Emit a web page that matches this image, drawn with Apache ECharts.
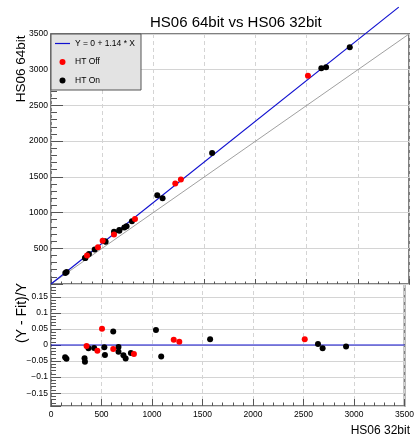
<!DOCTYPE html>
<html>
<head>
<meta charset="utf-8">
<script src="https://cdn.jsdelivr.net/npm/echarts@6/dist/echarts.min.js"></script>
<style>
  html, body { margin: 0; padding: 0; background: #fff; }
  #chart { width: 417px; height: 439px; }
</style>
</head>
<body>
<div id="chart"></div>
<script>
// HT Off (red) : HS06 32bit, HS06 64bit, residual (Y - Fit)/Y
const offX = [352, 459, 505, 616, 821, 1215, 1270, 2512]
const offY = [400, 514, 607, 694, 910, 1408, 1462, 2915]
const offRes = [-0.003, -0.018, 0.051, -0.0125, -0.028, 0.016, 0.010, 0.0177]

// HT On (black)
const onX = [140, 153, 332, 336, 371, 427, 528, 534, 616, 668, 668, 717, 739, 791, 1039, 1091, 1575, 2643, 2689, 2921]
const onY = [154, 167, 364, 364, 419, 482, 598, 590, 733, 757, 746, 792, 808, 880, 1243, 1200, 1835, 3022, 3035, 3313]
const onRes = [-0.0385, -0.043, -0.041, -0.052, -0.010, -0.009, -0.007, -0.031, 0.042, -0.006, -0.021, -0.032, -0.042, -0.025, 0.047, -0.036, 0.0177, 0.003, -0.010, -0.005]

// fit line Y = 0 + 1.14 * X (drawn past the frame, as in the original) and the Y = X diagonal
const fitX = [0, 3400]
const fitY = [0, 3876]
const diagX = [0, 3500]
const diagY = [0, 3500]
const zeroX = [0, 3500]
const zeroY = [0, 0]

const font = 'Liberation Sans, Arial, sans-serif'
const frame = '#808080'
const gridGray = '#d4d4d4'
const tickColor = '#555'
const fitBlue = '#1010d0'

const pairs = (xs, ys) => xs.map((x, i) => [x, ys[i]])
const plain = v => String(v)

const chart = echarts.init(document.getElementById('chart'))

chart.setOption({
  animation: false,
  title: {
    text: 'HS06 64bit vs HS06 32bit',
    left: 145,
    top: 10,
    textStyle: { fontFamily: font, fontSize: 15, fontWeight: 'normal', color: '#000' }
  },
  legend: {
    left: 51,
    top: 34,
    orient: 'vertical',
    selectedMode: false,
    backgroundColor: '#e3e3e3',
    borderColor: '#555',
    borderWidth: 1,
    borderRadius: 0,
    padding: [5, 6, 5, 4],
    itemGap: 9.5,
    itemWidth: 15,
    itemHeight: 6,
    symbolKeepAspect: true,
    textStyle: { fontFamily: font, fontSize: 8.5, color: '#000' },
    data: [
      { name: 'Y = 0 + 1.14 * X', icon: 'path://M0,0 L15,0 L15,1.2 L0,1.2 Z', itemStyle: { color: fitBlue } },
      'HT Off',
      'HT On'
    ]
  },
  grid: [
    { left: 51, right: 8, top: 34, height: 250, show: true, borderColor: frame, borderWidth: 2, backgroundColor: '#fff' },
    { left: 51, right: 8, top: 284, height: 122, show: true, borderColor: frame, borderWidth: 2, backgroundColor: 'transparent' }
  ],
  xAxis: [
    {
      gridIndex: 0,
      type: 'value',
      min: 0,
      max: 3500,
      interval: 500,
      axisLine: { show: false, onZero: false },
      axisTick: { inside: true, length: 5, lineStyle: { color: tickColor } },
      minorTick: { show: true, splitNumber: 5, length: 2.5, lineStyle: { color: tickColor } },
      axisLabel: { show: false },
      splitLine: { show: true, lineStyle: { color: gridGray, type: [4, 3] } }
    },
    {
      gridIndex: 1,
      type: 'value',
      min: 0,
      max: 3500,
      interval: 500,
      axisLine: { show: false, onZero: false },
      axisTick: { inside: true, length: 7, lineStyle: { color: tickColor } },
      minorTick: { show: true, splitNumber: 5, length: 3.5, lineStyle: { color: tickColor } },
      axisLabel: { margin: 4, fontFamily: font, fontSize: 8.5, color: '#000', formatter: plain },
      splitLine: { show: true, lineStyle: { color: gridGray, type: [4, 3] } }
    }
  ],
  yAxis: [
    {
      gridIndex: 0,
      type: 'value',
      min: 0,
      max: 3500,
      interval: 500,
      axisLine: { show: false, onZero: false },
      axisTick: { inside: true, length: 12, lineStyle: { color: tickColor } },
      minorTick: { show: true, splitNumber: 5, length: 6, lineStyle: { color: tickColor } },
      axisLabel: { margin: 3, showMinLabel: false, fontFamily: font, fontSize: 8.5, color: '#000', formatter: plain },
      splitLine: { show: true, lineStyle: { color: gridGray } }
    },
    {
      gridIndex: 1,
      type: 'value',
      min: -0.19,
      max: 0.19,
      splitNumber: 8,
      axisLine: { show: false, onZero: false },
      axisTick: { inside: true, length: 10, lineStyle: { color: tickColor } },
      minorTick: { show: true, splitNumber: 5, length: 5, lineStyle: { color: tickColor } },
      axisLabel: {
        margin: 3,
        showMinLabel: false,
        showMaxLabel: false,
        fontFamily: font,
        fontSize: 8.5,
        color: '#000',
        formatter: v => {
          const s = String(Math.round(v * 100) / 100)
          return s.replace('-', '\u2212')
        }
      },
      splitLine: { show: true, lineStyle: { color: gridGray } }
    }
  ],
  graphic: [
    {
      type: 'text', x: 21, y: 35.5, rotation: Math.PI / 2,
      style: { text: 'HS06 64bit', fontFamily: font, fontSize: 13.5, fill: '#000', align: 'right', verticalAlign: 'middle' }
    },
    {
      type: 'text', x: 22, y: 283, rotation: Math.PI / 2,
      style: { text: '(Y - Fit)/Y', fontFamily: font, fontSize: 14, fill: '#000', align: 'right', verticalAlign: 'middle' }
    },
    {
      type: 'text', x: 410, y: 437,
      style: { text: 'HS06 32bit', fontFamily: font, fontSize: 12, fill: '#000', align: 'right', verticalAlign: 'bottom' }
    }
  ],
  series: [
    {
      name: 'Y = X',
      type: 'line',
      xAxisIndex: 0,
      yAxisIndex: 0,
      symbol: 'none',
      silent: true,
      lineStyle: { color: '#888', width: 0.8 },
      data: pairs(diagX, diagY)
    },
    {
      name: 'Y = 0 + 1.14 * X',
      type: 'line',
      xAxisIndex: 0,
      yAxisIndex: 0,
      symbol: 'none',
      clip: false,
      color: fitBlue,
      lineStyle: { color: fitBlue, width: 1.2 },
      data: pairs(fitX, fitY),
      z: 3
    },
    {
      name: 'HT On',
      type: 'scatter',
      xAxisIndex: 0,
      yAxisIndex: 0,
      symbolSize: 6,
      itemStyle: { color: '#000', opacity: 1 },
      data: pairs(onX, onY),
      z: 4
    },
    {
      name: 'HT Off',
      type: 'scatter',
      xAxisIndex: 0,
      yAxisIndex: 0,
      symbolSize: 6,
      itemStyle: { color: '#ff0000', opacity: 1 },
      data: pairs(offX, offY),
      z: 5
    },
    // residual panel
    {
      name: 'zero',
      type: 'line',
      xAxisIndex: 1,
      yAxisIndex: 1,
      symbol: 'none',
      lineStyle: { color: fitBlue, width: 1.2 },
      data: pairs(zeroX, zeroY),
      z: 3
    },
    {
      name: 'HT On',
      type: 'scatter',
      xAxisIndex: 1,
      yAxisIndex: 1,
      symbolSize: 6,
      itemStyle: { color: '#000', opacity: 1 },
      data: pairs(onX, onRes),
      z: 4
    },
    {
      name: 'HT Off',
      type: 'scatter',
      xAxisIndex: 1,
      yAxisIndex: 1,
      symbolSize: 6,
      itemStyle: { color: '#ff0000', opacity: 1 },
      data: pairs(offX, offRes),
      z: 5
    }
  ]
})
</script>
</body>
</html>
